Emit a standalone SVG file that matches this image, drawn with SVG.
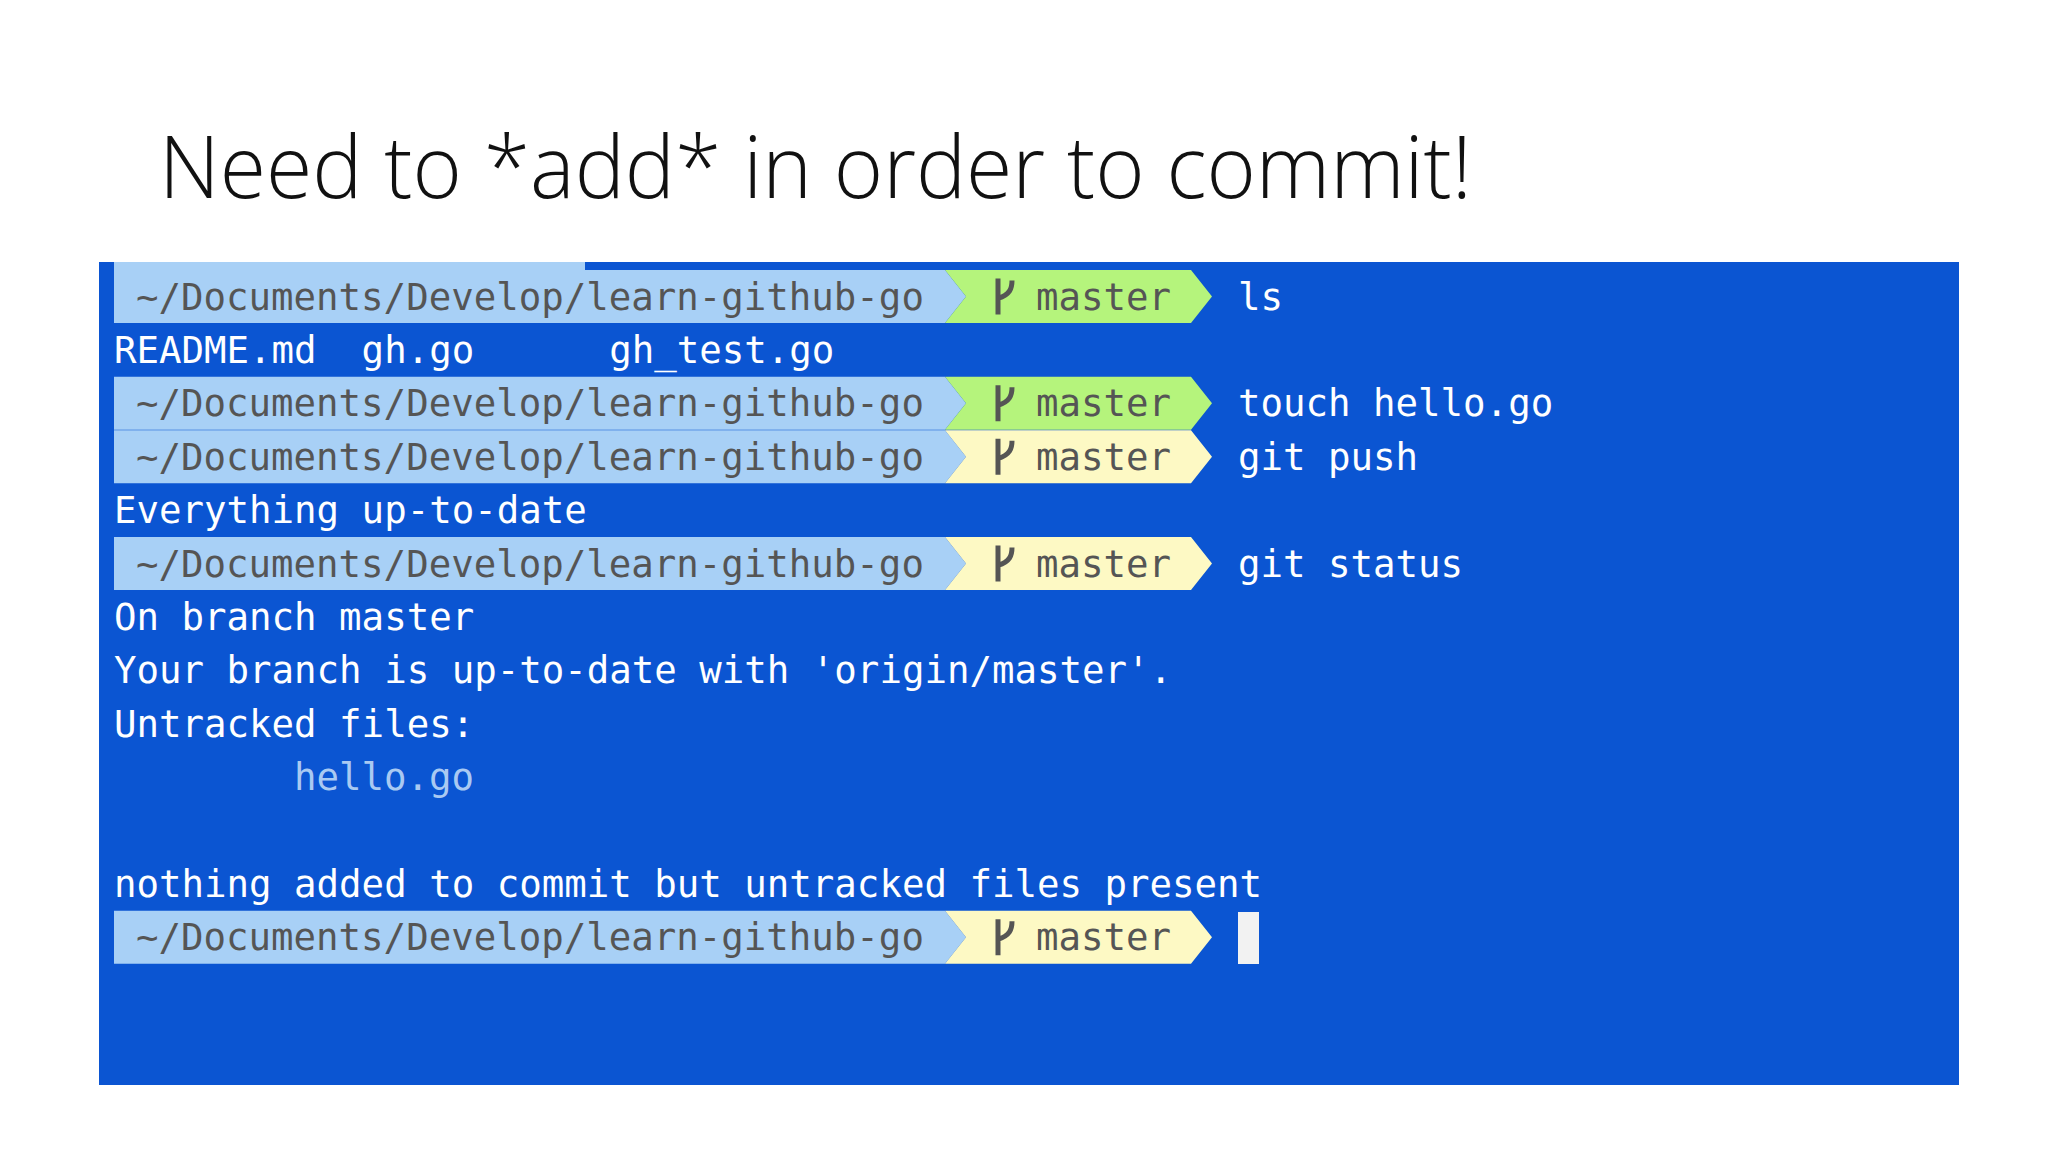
<svg xmlns="http://www.w3.org/2000/svg" xmlns:xlink="http://www.w3.org/1999/xlink" width="2048" height="1152" viewBox="0 0 2048 1152">
<style>
.t{font-family:"DejaVu Sans Mono","Liberation Mono",monospace;font-size:37.4px;white-space:pre}
.w{fill:#ffffff}
.d{fill:#555555}
.h{fill:#a9c9f2}
.title{font-family:"Open Sans","Liberation Sans",sans-serif;font-weight:300;font-size:86px;fill:#111}
</style>
<defs>
<g id="pblue"><polygon points="114,-26.5 945,-26.5 966,0 945,26.5 114,26.5" fill="#a8d0f6"/><text class="t d" x="136" y="13">~/Documents/Develop/learn-github-go</text></g>
<g id="icon"><path d="M998,-18 V18 M998,2 C1010,-2 1012,-8 1012,-16" fill="none" stroke="#555" stroke-width="5"/><text class="t d" x="1036" y="13">master</text></g>
<g id="pgreen"><use xlink:href="#pblue"/><polygon points="945,-26.5 1191,-26.5 1212,0 1191,26.5 945,26.5 966,0" fill="#b5f47c"/><use xlink:href="#icon"/></g>
<g id="pyellow"><use xlink:href="#pblue"/><polygon points="945,-26.5 1191,-26.5 1212,0 1191,26.5 945,26.5 966,0" fill="#fdf9c4"/><use xlink:href="#icon"/></g>
</defs>
<rect width="2048" height="1152" fill="#ffffff"/>
<text class="title" x="159" y="198" textLength="1313" lengthAdjust="spacingAndGlyphs">Need to *add* in order to commit!</text>
<g id="terminal">
<rect x="99" y="262" width="1860" height="823" fill="#0b55d2"/>
<rect x="114" y="262" width="471" height="8" fill="#a8d0f6"/>
<use xlink:href="#pgreen" transform="translate(0,296.5)"/>
<text class="t w" x="1238" y="309.5">ls</text>
<text class="t w" x="114" y="362.9">README.md  gh.go      gh_test.go</text>
<use xlink:href="#pgreen" transform="translate(0,403.3)"/>
<text class="t w" x="1238" y="416.3">touch hello.go</text>
<use xlink:href="#pyellow" transform="translate(0,456.7)"/>
<text class="t w" x="1238" y="469.7">git push</text>
<text class="t w" x="114" y="523.1">Everything up-to-date</text>
<use xlink:href="#pyellow" transform="translate(0,563.5)"/>
<text class="t w" x="1238" y="576.5">git status</text>
<text class="t w" x="114" y="629.9">On branch master</text>
<text class="t w" x="114" y="683.3">Your branch is up-to-date with 'origin/master'.</text>
<text class="t w" x="114" y="736.7">Untracked files:</text>
<text class="t h" x="294" y="790.1">hello.go</text>
<text class="t w" x="114" y="896.9">nothing added to commit but untracked files present</text>
<use xlink:href="#pyellow" transform="translate(0,937.3)"/>
<rect x="1238" y="912" width="21" height="52" fill="#f2f2f2"/>
</g>
</svg>
